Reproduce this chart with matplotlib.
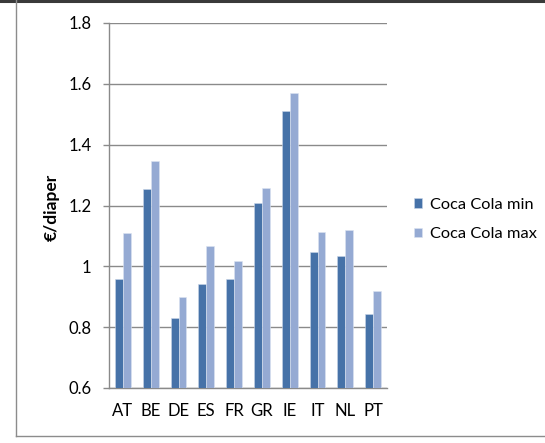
import matplotlib
matplotlib.use('Agg')
import matplotlib.pyplot as plt
import numpy as np
from matplotlib.lines import Line2D

# 국가별 기저귀 가격 (€/diaper)
countries = ['AT', 'BE', 'DE', 'ES', 'FR', 'GR', 'IE', 'IT', 'NL', 'PT']
cc_min = [0.96, 1.255, 0.83, 0.942, 0.958, 1.207, 1.51, 1.048, 1.034, 0.843]
cc_max = [1.109, 1.345, 0.90, 1.068, 1.017, 1.256, 1.569, 1.113, 1.119, 0.92]
series_names = ['Coca Cola min', 'Coca Cola max']
y_ticks = [0.6, 0.8, 1.0, 1.2, 1.4, 1.6, 1.8]
y_tick_labels = ['0.6', '0.8', '1', '1.2', '1.4', '1.6', '1.8']

plt.rcParams['font.family'] = ['Lato', 'DejaVu Sans']

W, H = 545, 443
fig = plt.figure(figsize=(W / 100, H / 100), dpi=100)
ax = fig.add_axes([109 / W, 1 - 388 / H, (387 - 109) / W, (388 - 23) / H])

x = np.arange(len(countries))
bw = 1 / 3.5  # 엑셀 기본 간격 150%
ax.bar(x - bw / 2, cc_min, bw, color='#4672A8', edgecolor='#C9D5E8', linewidth=0.4,
       label=series_names[0], zorder=3)
ax.bar(x + bw / 2, cc_max, bw, color='#95AAD3', edgecolor='#DCE4F1', linewidth=0.4,
       label=series_names[1], zorder=3)

ax.set_xlim(-0.5, len(countries) - 0.5)
ax.set_ylim(0.6, 1.8)
ax.set_yticks(y_ticks)
ax.set_yticklabels(y_tick_labels)
ax.set_xticks(x)
ax.set_xticklabels(countries)

ax.grid(axis='y', color='#8A8A8A', linewidth=1.0, zorder=0)
for side in ['top', 'right']:
    ax.spines[side].set_visible(False)
ax.spines['left'].set_color('#8A8A8A')
ax.spines['bottom'].set_color('#8A8A8A')
ax.spines['left'].set_linewidth(1.0)
ax.spines['bottom'].set_linewidth(1.0)

ax.tick_params(axis='y', length=4.5, width=1.0, color='#8A8A8A', pad=8, labelsize=12)
ax.tick_params(axis='x', length=0, pad=11, labelsize=12)

fig.text(52 / W, 1 - 207.5 / H, '€/diaper', rotation=90, ha='center', va='center',
         fontsize=12.5, fontweight='bold')

ax.legend(loc='center left', bbox_to_anchor=(414 / W, 1 - 219.5 / H),
          bbox_transform=fig.transFigure, frameon=False, fontsize=11.8,
          handlelength=0.5, handleheight=0.5, handletextpad=0.45,
          labelspacing=0.95, borderpad=0, borderaxespad=0)

# 차트 테두리
fig.add_artist(Line2D([0, 1], [1 - 1.2 / H, 1 - 1.2 / H], transform=fig.transFigure,
                      color='#3A3A3A', linewidth=2.2))
fig.add_artist(Line2D([15.5 / W, 15.5 / W], [1 - 436 / H, 1], transform=fig.transFigure,
                      color='#8C8C8C', linewidth=1.0))
fig.add_artist(Line2D([15.5 / W, 1], [1 - 436 / H, 1 - 436 / H], transform=fig.transFigure,
                      color='#8C8C8C', linewidth=1.0))

fig.savefig('out.png', dpi=100)
